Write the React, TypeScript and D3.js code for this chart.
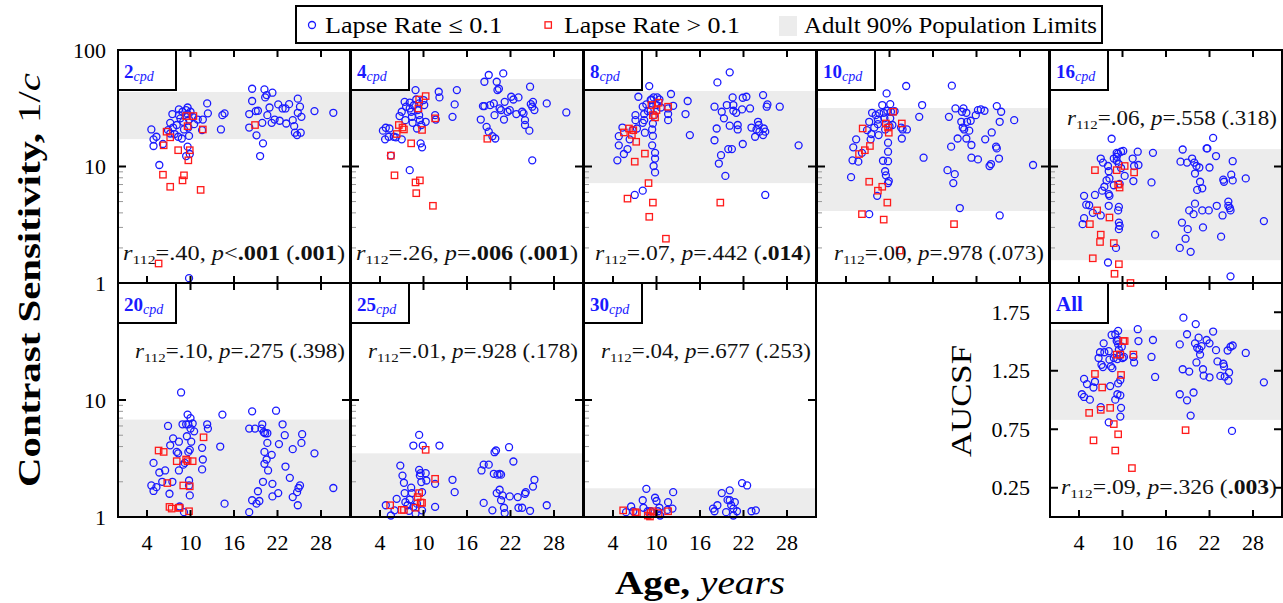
import React from "react";
import * as d3 from "d3";

type Pt = [number, number];

// tick values
const ageTicks = [4, 10, 16, 22, 28];
const csTickLabels = [1, 10, 100];
const aucTicks = [0.25, 0.75, 1.25, 1.75];

// [age, contrast sensitivity] for each spatial frequency
const blue2: Pt[] = [[4.6,20.8],[4.9,17.1],[5.3,18.0],[4.9,15.0],[5.7,10.3],[6.2,15.6],[7.2,23.7],[7.5,28.2],[7.6,21.6],[7.2,19.2],[8.1,22.7],[8.4,30.9],[8.4,27.6],[8.6,25.9],[8.9,29.5],[9.0,24.2],[9.1,20.8],[9.4,30.5],[9.6,32.1],[9.6,28.2],[9.8,25.3],[9.7,21.6],[9.8,18.3],[9.6,14.8],[9.4,12.3],[9.9,12.8],[10.0,29.5],[10.3,26.7],[10.5,23.1],[11.0,25.3],[11.6,20.5],[11.7,25.3],[12.3,34.8],[12.4,28.6],[14.2,20.8],[14.4,27.6],[14.7,28.6],[18.1,28.2],[18.1,21.6],[18.5,46.5],[18.5,36.5],[19.0,29.9],[19.1,18.5],[19.3,30.1],[19.6,12.3],[19.9,23.7],[20.0,15.8],[20.2,45.9],[20.3,39.2],[20.5,41.0],[20.6,27.6],[20.9,32.1],[21.2,23.7],[21.3,43.0],[21.6,25.3],[22.1,34.1],[22.3,24.7],[22.7,31.5],[23.1,31.5],[23.2,23.4],[23.6,34.3],[24.1,25.0],[24.3,22.2],[24.4,19.5],[24.7,18.6],[24.8,38.2],[24.8,28.9],[25.1,32.6],[25.2,19.5],[25.3,26.7],[27.1,29.9],[29.7,28.9],[9.8,1.1],[6.9,20.5],[7.8,19.0],[8.3,18.0],[8.8,17.4]];
const red2: Pt[] = [[6.7,19.9],[6.3,15.2],[7.2,17.8],[8.3,13.8],[9.4,27.1],[10.4,27.1],[9.6,22.2],[9.7,11.3],[9.9,13.8],[11.7,20.8],[6.2,8.5],[7.2,6.7],[8.9,7.6],[9.1,8.4],[11.4,6.3],[5.6,1.47],[18.9,22.7]];

const blue4: Pt[] = [[4.4,20.3],[4.8,21.5],[5.3,21.2],[4.7,17.1],[5.2,18.0],[5.9,18.0],[6.2,17.8],[7.0,17.1],[6.7,27.1],[7.0,29.5],[7.4,35.9],[7.6,32.6],[7.5,25.0],[8.1,35.3],[8.1,31.5],[8.3,29.5],[8.4,26.7],[8.5,23.7],[8.7,33.7],[8.9,45.3],[9.0,37.6],[9.1,21.2],[9.2,30.5],[9.4,34.8],[9.4,27.6],[9.5,25.0],[9.6,15.8],[9.7,22.7],[9.8,14.6],[10.0,37.2],[10.1,33.7],[10.3,24.2],[11.6,27.6],[11.7,25.3],[12.1,43.8],[12.2,39.2],[14.0,26.7],[14.3,34.1],[14.6,45.3],[8.1,9.3],[5.5,12.4],[17.9,25.3],[18.2,33.0],[18.4,33.0],[18.7,21.9],[19.0,19.9],[19.2,33.7],[19.7,34.8],[18.4,53.4],[19.0,61.0],[19.5,18.2],[19.9,17.4],[19.8,27.6],[20.1,53.4],[20.2,45.3],[20.4,46.5],[20.5,31.5],[20.7,30.5],[21.0,63.0],[21.2,35.9],[21.1,25.3],[21.6,29.5],[21.9,30.5],[22.1,39.7],[22.4,37.6],[22.8,28.2],[23.1,39.2],[23.6,29.5],[23.8,28.6],[24.0,25.0],[24.0,22.7],[24.6,20.3],[24.7,48.4],[24.8,34.3],[25.0,32.6],[25.1,35.9],[25.3,30.5],[25.0,11.3],[27.0,34.8],[29.7,29.1]];
const red4: Pt[] = [[9.4,37.6],[10.3,40.2],[9.3,31.5],[6.6,22.7],[7.1,21.6],[7.3,20.8],[6.3,19.0],[8.3,15.8],[9.8,20.6],[11.6,25.9],[18.8,17.3],[6.0,8.4],[8.9,7.3],[9.5,7.6],[9.0,5.9],[11.3,4.6],[5.5,12.4]];

const blue8: Pt[] = [[4.6,11.3],[4.8,18.2],[4.8,15.2],[5.5,12.8],[6.0,14.1],[5.3,21.6],[6.3,17.1],[6.7,20.5],[7.0,5.7],[7.1,27.6],[7.1,25.0],[7.3,21.2],[7.5,39.7],[8.1,6.2],[8.1,32.6],[8.1,23.7],[8.3,25.0],[8.3,28.2],[8.4,19.5],[8.6,34.1],[8.8,29.9],[9.0,49.0],[9.2,30.5],[9.2,37.2],[9.3,37.6],[9.4,20.8],[9.4,15.2],[9.5,18.3],[9.5,23.4],[9.6,39.2],[9.7,27.6],[9.8,13.1],[9.8,11.7],[9.6,10.1],[9.8,8.9],[10.0,33.7],[10.1,39.2],[10.4,37.6],[10.6,32.1],[11.6,31.5],[11.6,28.2],[11.6,25.0],[12.0,41.9],[12.3,33.2],[14.0,28.2],[14.3,36.5],[14.6,18.6],[18.0,32.6],[18.0,16.8],[18.3,21.2],[18.4,52.7],[18.6,10.6],[18.9,12.5],[19.0,29.5],[19.3,25.9],[19.5,8.3],[19.7,33.7],[19.9,14.1],[20.1,22.4],[20.1,64.3],[20.4,14.1],[20.5,39.2],[20.6,30.1],[20.6,33.7],[21.0,28.9],[21.2,22.7],[21.2,20.8],[21.8,30.9],[21.9,38.9],[21.9,15.6],[22.4,39.7],[22.9,31.5],[23.1,21.6],[23.6,18.0],[23.8,20.8],[24.0,24.2],[24.1,22.7],[24.2,19.9],[24.7,41.0],[24.7,18.6],[24.8,21.2],[25.0,19.9],[25.2,32.6],[25.3,34.1],[25.0,5.7],[27.0,32.6],[29.6,15.2]];
const red8: Pt[] = [[5.5,19.6],[6.2,21.2],[6.6,18.7],[6.8,20.5],[7.2,16.3],[7.0,11.0],[8.4,12.9],[8.9,7.2],[6.0,5.3],[9.5,4.9],[9.0,3.7],[11.3,2.4],[18.8,4.9],[9.3,33.7],[9.5,27.6],[10.0,30.5],[10.3,35.3],[11.6,32.6],[9.8,26.4]];

const blue10: Pt[] = [[4.7,8.1],[4.9,11.3],[5.0,14.6],[5.4,17.1],[5.7,11.0],[6.2,13.1],[6.9,20.5],[7.2,24.2],[7.2,3.9],[7.4,17.1],[7.5,19.0],[7.6,28.9],[7.9,21.6],[8.1,27.6],[8.3,5.6],[8.4,25.3],[8.4,23.1],[8.5,18.6],[8.6,28.6],[9.0,33.7],[9.1,11.2],[9.2,28.9],[9.3,25.9],[9.4,9.1],[9.4,20.8],[9.5,8.4],[9.6,42.4],[9.7,30.1],[9.8,13.4],[9.8,16.0],[9.8,11.1],[9.8,7.2],[9.9,7.5],[10.0,22.2],[10.1,34.3],[10.1,25.9],[10.2,29.5],[10.4,22.7],[10.7,29.8],[11.6,21.6],[11.7,17.4],[11.8,20.8],[12.3,49.1],[12.4,20.8],[14.1,26.7],[14.5,33.7],[14.7,11.9],[18.0,9.3],[18.2,26.7],[18.5,14.8],[18.6,49.4],[18.8,7.2],[19.0,8.6],[19.1,31.5],[19.4,17.4],[19.7,4.4],[19.9,24.2],[20.0,29.5],[20.1,21.6],[20.2,31.5],[20.3,20.8],[20.6,17.4],[20.6,28.9],[20.7,24.2],[21.0,20.3],[21.2,24.7],[21.3,15.3],[21.3,11.9],[21.9,27.6],[22.2,11.5],[22.2,30.5],[22.6,30.9],[23.1,30.1],[23.2,17.1],[23.8,10.1],[24.0,10.5],[24.1,19.6],[24.7,14.8],[24.8,14.3],[24.8,33.0],[25.1,11.7],[25.2,3.8],[25.2,24.2],[25.4,29.5],[27.2,25.0],[29.8,10.3]];
const red10: Pt[] = [[6.3,21.2],[5.8,12.8],[6.6,13.8],[7.3,15.0],[7.2,7.4],[8.4,6.2],[9.0,6.7],[9.7,4.9],[6.2,3.9],[9.2,3.5],[10.5,29.5],[9.5,23.4],[9.8,21.6],[9.9,19.5],[11.7,23.4],[11.4,1.9],[18.9,3.2]];

const blue16: Pt[] = [[4.7,5.6],[4.5,3.2],[4.7,3.6],[5.0,4.7],[5.4,4.65],[5.9,4.0],[6.2,5.7],[7.0,3.8],[7.0,11.7],[7.3,10.8],[7.2,6.2],[7.5,6.7],[7.8,7.6],[8.0,10.1],[8.1,5.8],[8.1,9.1],[8.2,5.6],[8.1,4.6],[8.2,7.9],[8.5,17.3],[8.8,6.9],[8.8,11.7],[9.1,2.0],[9.2,13.1],[9.2,12.1],[9.2,11.2],[9.4,12.9],[9.4,4.2],[9.5,4.5],[9.5,3.3],[9.5,10.5],[9.5,2.9],[9.6,7.1],[9.6,3.1],[9.8,9.7],[9.8,13.4],[10.1,13.6],[10.3,8.3],[11.4,11.7],[11.5,7.5],[11.6,10.1],[12.1,13.4],[12.2,10.3],[14.2,13.1],[14.0,7.3],[14.5,2.6],[8.0,1.5],[17.9,2.0],[18.0,11.0],[18.2,3.3],[18.3,14.0],[18.7,2.4],[18.9,10.8],[19.0,2.9],[19.2,4.2],[19.4,1.85],[19.6,11.7],[19.8,3.9],[19.9,10.8],[20.0,8.7],[20.0,4.8],[20.2,10.1],[20.3,6.3],[20.6,9.8],[20.7,7.4],[21.0,6.5],[21.0,4.2],[21.1,3.0],[21.6,14.3],[21.7,14.3],[21.9,4.2],[22.0,9.8],[22.5,17.6],[22.9,12.3],[23.0,4.6],[23.6,2.5],[23.8,3.8],[23.9,7.7],[24.0,7.4],[24.6,5.0],[24.6,4.6],[24.8,4.4],[24.9,4.2],[25.0,8.5],[25.2,11.1],[25.2,7.6],[24.9,1.14],[27.0,7.9],[29.5,3.4]];
const red16: Pt[] = [[6.2,9.3],[5.5,3.2],[6.5,4.2],[7.0,2.6],[6.9,2.25],[8.2,3.65],[8.8,2.2],[9.2,9.3],[9.6,6.6],[9.4,7.0],[10.3,10.1],[11.6,8.9],[5.9,1.63],[9.5,1.45],[8.9,1.2],[11.1,1.0]];

const blue20: Pt[] = [[4.6,1.86],[4.9,1.67],[5.3,1.8],[4.9,2.9],[5.7,2.4],[6.1,2.0],[6.5,2.5],[6.9,6.0],[7.1,1.58],[7.2,4.1],[7.6,4.7],[7.5,2.0],[8.1,3.6],[8.3,3.5],[8.4,4.4],[8.4,2.5],[8.5,1.23],[8.7,11.6],[8.9,6.2],[9.0,2.8],[9.1,1.1],[9.2,2.9],[9.4,6.2],[9.5,4.9],[9.6,7.5],[9.7,6.2],[9.7,3.6],[9.8,2.05],[9.8,1.86],[9.9,1.53],[9.9,3.75],[10.0,7.0],[10.0,5.7],[10.1,4.4],[10.3,6.3],[10.5,5.4],[11.6,3.9],[11.6,2.55],[11.7,3.1],[12.3,6.2],[12.4,5.7],[14.1,4.0],[14.4,7.5],[14.7,1.3],[18.1,5.7],[18.1,1.1],[18.5,8.0],[18.5,1.39],[18.9,5.7],[19.1,1.3],[19.3,1.66],[19.5,1.37],[19.8,5.7],[19.9,6.2],[20.0,2.0],[20.1,5.3],[20.2,3.6],[20.2,2.85],[20.3,5.2],[20.5,3.1],[20.6,4.3],[20.6,5.2],[20.7,2.5],[21.2,3.4],[21.3,1.5],[21.3,1.92],[21.8,8.1],[22.1,1.6],[22.2,4.2],[22.7,6.2],[23.0,5.0],[23.1,2.7],[23.7,2.16],[24.1,1.48],[24.1,3.8],[24.7,1.63],[24.8,1.26],[24.9,1.77],[25.1,1.86],[25.3,4.3],[25.4,5.1],[27.1,3.5],[29.7,1.77]];
const red20: Pt[] = [[5.6,3.7],[6.3,3.6],[6.8,1.95],[7.1,1.22],[7.4,1.18],[8.4,1.2],[8.5,1.2],[8.1,3.0],[9.6,3.0],[10.3,3.0],[9.0,1.86],[9.9,1.83],[9.8,1.12],[11.8,4.8],[9.4,3.1]];

const blue25: Pt[] = [[4.8,1.26],[5.5,1.03],[6.0,1.14],[6.3,1.43],[6.8,2.75],[7.1,2.26],[7.3,1.96],[7.4,1.6],[7.5,1.34],[7.8,1.26],[8.0,1.13],[8.1,1.41],[8.3,1.78],[8.4,1.6],[8.6,4.08],[8.6,1.22],[8.9,1.07],[9.1,1.3],[9.4,5.03],[9.4,2.53],[9.5,2.26],[9.6,2.37],[9.7,1.99],[9.8,1.63],[9.8,1.14],[9.9,4.08],[10.3,2.37],[10.4,2.05],[11.6,1.92],[11.6,1.22],[12.2,4.08],[14.0,2.08],[14.3,1.63],[18.0,2.5],[18.3,2.8],[18.3,1.32],[19.0,2.8],[19.5,1.14],[19.7,2.34],[19.8,3.58],[20.0,3.7],[20.1,1.6],[20.2,2.3],[20.5,2.34],[20.7,2.3],[20.5,1.71],[20.7,1.39],[20.9,1.53],[21.1,1.2],[21.2,1.08],[21.8,3.95],[21.9,1.5],[22.4,2.98],[23.0,1.48],[23.1,1.2],[23.6,1.2],[24.0,1.58],[24.1,1.63],[24.7,1.13],[25.1,1.82],[25.3,2.08],[27.0,1.26]];
const red25: Pt[] = [[5.4,1.26],[7.0,1.15],[7.3,1.15],[8.9,1.2],[9.2,1.48],[9.4,1.6],[9.6,1.33],[9.8,1.32],[10.3,3.75],[11.6,2.12]];

const blue30: Pt[] = [[5.8,1.1],[6.5,1.23],[6.8,1.12],[8.1,1.39],[8.2,1.2],[8.6,1.74],[8.8,1.12],[9.2,1.12],[9.8,1.46],[10.0,1.37],[10.2,1.12],[10.4,1.2],[10.5,1.03],[11.5,1.15],[11.6,1.34],[12.2,1.18],[12.3,1.63],[17.8,1.18],[18.0,1.12],[18.4,1.26],[19.0,1.6],[19.6,1.1],[19.8,1.4],[20.1,1.39],[20.1,1.69],[20.3,1.26],[20.6,1.03],[20.6,1.18],[20.8,1.34],[21.1,1.12],[21.8,1.95],[22.5,1.86],[23.1,1.12],[23.7,1.14]];
const red30: Pt[] = [[5.4,1.14],[7.1,1.1],[7.3,1.08],[8.8,1.03],[9.2,1.08],[9.5,1.12],[10.3,1.08],[11.6,1.12],[9.1,1.01]];

// [age, AUCSF]
const blueAll: Pt[] = [[4.4,1.049],[4.7,1.18],[4.7,1.026],[5.1,1.136],[5.5,1.003],[6.0,1.107],[6.2,1.156],[6.7,1.359],[6.9,1.408],[7.0,0.939],[7.1,1.301],[7.3,1.281],[7.4,1.484],[7.5,1.408],[8.1,0.809],[8.1,1.417],[8.2,1.345],[8.3,1.119],[8.4,1.287],[8.5,1.556],[8.6,1.272],[8.8,1.359],[9.0,1.562],[9.0,1.003],[9.2,1.504],[9.3,1.35],[9.3,1.049],[9.4,1.591],[9.4,1.475],[9.4,1.142],[9.4,1.513],[9.5,1.431],[9.6,1.379],[9.7,1.171],[9.7,1.04],[9.8,0.933],[9.7,0.858],[9.9,1.455],[10.0,1.359],[10.2,1.368],[11.5,1.368],[11.6,1.321],[12.1,1.605],[12.2,1.504],[14.0,1.368],[14.2,1.513],[14.5,1.197],[17.9,1.475],[17.9,1.049],[18.3,1.263],[18.4,1.704],[18.9,0.997],[18.9,1.562],[19.2,1.243],[19.4,0.867],[19.8,1.064],[20.0,1.484],[20.1,1.649],[20.2,1.321],[20.3,1.446],[20.5,1.533],[20.6,1.431],[20.7,1.388],[20.9,1.46],[21.1,1.263],[21.2,1.208],[21.6,1.513],[22.0,1.484],[22.0,1.194],[22.5,1.585],[22.9,1.426],[23.1,1.33],[23.5,1.206],[23.9,1.31],[24.0,1.287],[24.1,1.2],[24.5,1.423],[24.6,1.165],[24.7,1.235],[24.9,1.455],[25.1,0.736],[25.2,1.466],[27.0,1.402],[29.5,1.151]];
const redAll: Pt[] = [[5.4,0.89],[6.0,0.655],[6.2,1.223],[7.0,0.916],[7.2,1.107],[8.3,0.933],[8.8,0.794],[9.0,0.568],[9.4,0.707],[9.8,1.214],[10.1,1.504],[10.3,1.504],[9.7,1.388],[11.3,0.418],[11.5,1.388],[18.7,0.742],[9.2,1.388]];

// adult 90% population limits per panel
const bandLow = [17.2, 16.9, 7.2, 4.15, 1.57, 1, 1, 1, 0.83];
const bandHigh = [43.6, 56.4, 44.5, 31.8, 14.1, 6.8, 3.5, 1.76, 1.6];

// correlation statistics per panel
const statR = [".40", ".26", ".07", ".00", ".06", ".10", ".01", ".04", ".09"];
const statP = ["<.001", "=.006", "=.442", "=.978", "=.558", "=.275", "=.928", "=.677", "=.326"];
const statAdj = [".001", ".001", ".014", ".073", ".318", ".398", ".178", ".253", ".003"];

const tags = ["2", "4", "8", "10", "16", "20", "25", "30", "All"];
const blues = [blue2, blue4, blue8, blue10, blue16, blue20, blue25, blue30, blueAll];
const reds = [red2, red4, red8, red10, red16, red20, red25, red30, redAll];

const colX = [118, 351, 584, 817, 1050];
const rowTop = [50, 283];
const rowBot = [283, 517];
const PW = 232;
const BLUE = "#1a1aff";
const RED = "#ff1a1a";
const FONT = "'Liberation Serif', 'Times New Roman', serif";

const isSig = (s: string) => parseFloat(s.replace(/[<=]/, "")) < 0.05;

const Panel = ({ i }: { i: number }) => {
  const col = i < 5 ? i : i === 8 ? 4 : i - 5;
  const row = i < 5 ? 0 : 1;
  const left = colX[col];
  const right = left + PW;
  const top = rowTop[row];
  const bottom = rowBot[row];
  const auc = i === 8;

  const x = d3.scaleLinear().domain([0, 32]).range([left, right]);
  const y: any = auc
    ? d3.scaleLinear().domain([0, 2]).range([bottom, top])
    : d3.scaleLog().domain([1, 100]).range([bottom, top]);

  const statTop = i >= 4 && i <= 7;
  const statY = statTop ? top + 75 : bottom - 23;
  const pStr = statP[i];
  const op = pStr[0];
  const pVal = pStr.slice(1);
  const nBold = (isSig(pStr) ? 1 : 0) + (isSig(statAdj[i]) ? 1 : 0);

  const yMajor = auc ? aucTicks : [10];
  const minor = auc ? [] : d3.range(2, 10);

  return (
    <g>
      <rect x={left + 1} width={PW - 2} y={y(bandHigh[i])} height={y(bandLow[i]) - y(bandHigh[i])} fill="#ececec" />
      {blues[i].map((d, k) => (
        <circle key={"b" + k} cx={x(d[0])} cy={y(d[1])} r={3.5} fill="none" stroke={BLUE} strokeWidth={1.3} />
      ))}
      {reds[i].map((d, k) => (
        <rect key={"r" + k} x={x(d[0]) - 3.2} y={y(d[1]) - 3.2} width={6.4} height={6.4} fill="none" stroke={RED} strokeWidth={1.3} />
      ))}
      {/* ticks */}
      {ageTicks.map((t) => (
        <g key={"x" + t} stroke="#000" strokeWidth={2}>
          <line x1={x(t)} x2={x(t)} y1={top} y2={top + 7} />
          <line x1={x(t)} x2={x(t)} y1={bottom} y2={bottom - 7} />
        </g>
      ))}
      {yMajor.map((t) => (
        <g key={"y" + t} stroke="#000" strokeWidth={2}>
          <line x1={left} x2={left + 8} y1={y(t)} y2={y(t)} />
          <line x1={right} x2={right - 8} y1={y(t)} y2={y(t)} />
        </g>
      ))}
      {minor.map((t) => (
        <line key={"m" + t} x1={left} x2={left + 5} y1={y(t)} y2={y(t)} stroke="#999" strokeWidth={1} />
      ))}
      <rect x={left} y={top} width={PW} height={bottom - top} fill="none" stroke="#000" strokeWidth={2} />
      {/* tag */}
      <rect x={left} y={top} width={58} height={40} fill="#fff" stroke="#000" strokeWidth={2} />
      <text x={left + 6} y={top + 28} fill={BLUE} fontFamily={FONT}>
        <tspan fontWeight="bold" fontSize={auc ? 21 : 19}>{tags[i]}</tspan>
        {auc ? null : (
          <tspan fontStyle="italic" fontSize={14} dy={3}>cpd</tspan>
        )}
      </text>
      {/* statistics */}
      <text
        x={right - 5}
        y={statY}
        textAnchor="end"
        fontFamily={FONT}
        fontSize={20}
        fill="#111"
        textLength={210 + 6 * nBold}
        lengthAdjust="spacingAndGlyphs"
      >
        <tspan fontStyle="italic">r</tspan>
        <tspan fontSize={13} dy={4}>112</tspan>
        <tspan dy={-4}>{"=" + statR[i] + ", "}</tspan>
        <tspan fontStyle="italic">p</tspan>
        <tspan>{op}</tspan>
        <tspan fontWeight={isSig(pStr) ? "bold" : "normal"}>{pVal}</tspan>
        <tspan>{" ("}</tspan>
        <tspan fontWeight={isSig(statAdj[i]) ? "bold" : "normal"}>{statAdj[i]}</tspan>
        <tspan>)</tspan>
      </text>
      {/* tick labels */}
      {row === 1 &&
        ageTicks.map((t) => (
          <text key={"xl" + t} x={x(t)} y={550} textAnchor="middle" fontFamily={FONT} fontSize={22}>
            {t}
          </text>
        ))}
      {auc &&
        aucTicks.map((t) => (
          <text key={"al" + t} x={1030} y={y(t)} dy="0.35em" textAnchor="end" fontFamily={FONT} fontSize={22}>
            {d3.format(".2f")(t)}
          </text>
        ))}
      {col === 0 &&
        csTickLabels
          .filter((t) => row === 0 || t < 100)
          .map((t) => (
            <text key={"yl" + t} x={106} y={y(t)} dy="0.35em" textAnchor="end" fontFamily={FONT} fontSize={22}>
              {t}
            </text>
          ))}
    </g>
  );
};

export default function App() {
  return (
    <svg width={1283} height={603} style={{ position: "absolute", left: 0, top: 0, background: "#fff" }}>
      {tags.map((_, i) => (
        <Panel key={i} i={i} />
      ))}
      {/* legend */}
      <g fontFamily={FONT} fontSize={23}>
        <rect x={296} y={6} width={806} height={37} fill="#fff" stroke="#000" strokeWidth={2} />
        <circle cx={312} cy={25} r={3.5} fill="none" stroke={BLUE} strokeWidth={1.3} />
        <text x={325} y={33} textLength={177} lengthAdjust="spacingAndGlyphs">Lapse Rate ≤ 0.1</text>
        <rect x={545} y={21.8} width={6.4} height={6.4} fill="none" stroke={RED} strokeWidth={1.3} />
        <text x={564} y={33} textLength={176} lengthAdjust="spacingAndGlyphs">Lapse Rate &gt; 0.1</text>
        <rect x={779} y={16} width={18} height={20} fill="#ececec" />
        <text x={804} y={33} textLength={293} lengthAdjust="spacingAndGlyphs">Adult 90% Population Limits</text>
      </g>
      {/* axis titles */}
      <text
        transform="translate(40,280) rotate(-90)"
        textAnchor="middle"
        fontFamily={FONT}
        fontSize={31}
        textLength={414}
        lengthAdjust="spacingAndGlyphs"
      >
        <tspan fontWeight="bold">Contrast Sensitivity,</tspan>
        <tspan> 1/</tspan>
        <tspan fontStyle="italic">c</tspan>
      </text>
      <text
        transform="translate(971,401) rotate(-90)"
        textAnchor="middle"
        fontFamily={FONT}
        fontSize={30}
        textLength={112}
        lengthAdjust="spacingAndGlyphs"
      >
        AUCSF
      </text>
      <text
        x={700}
        y={594}
        textAnchor="middle"
        fontFamily={FONT}
        fontSize={34}
        textLength={170}
        lengthAdjust="spacingAndGlyphs"
      >
        <tspan fontWeight="bold">Age,</tspan>
        <tspan fontStyle="italic"> years</tspan>
      </text>
    </svg>
  );
}
